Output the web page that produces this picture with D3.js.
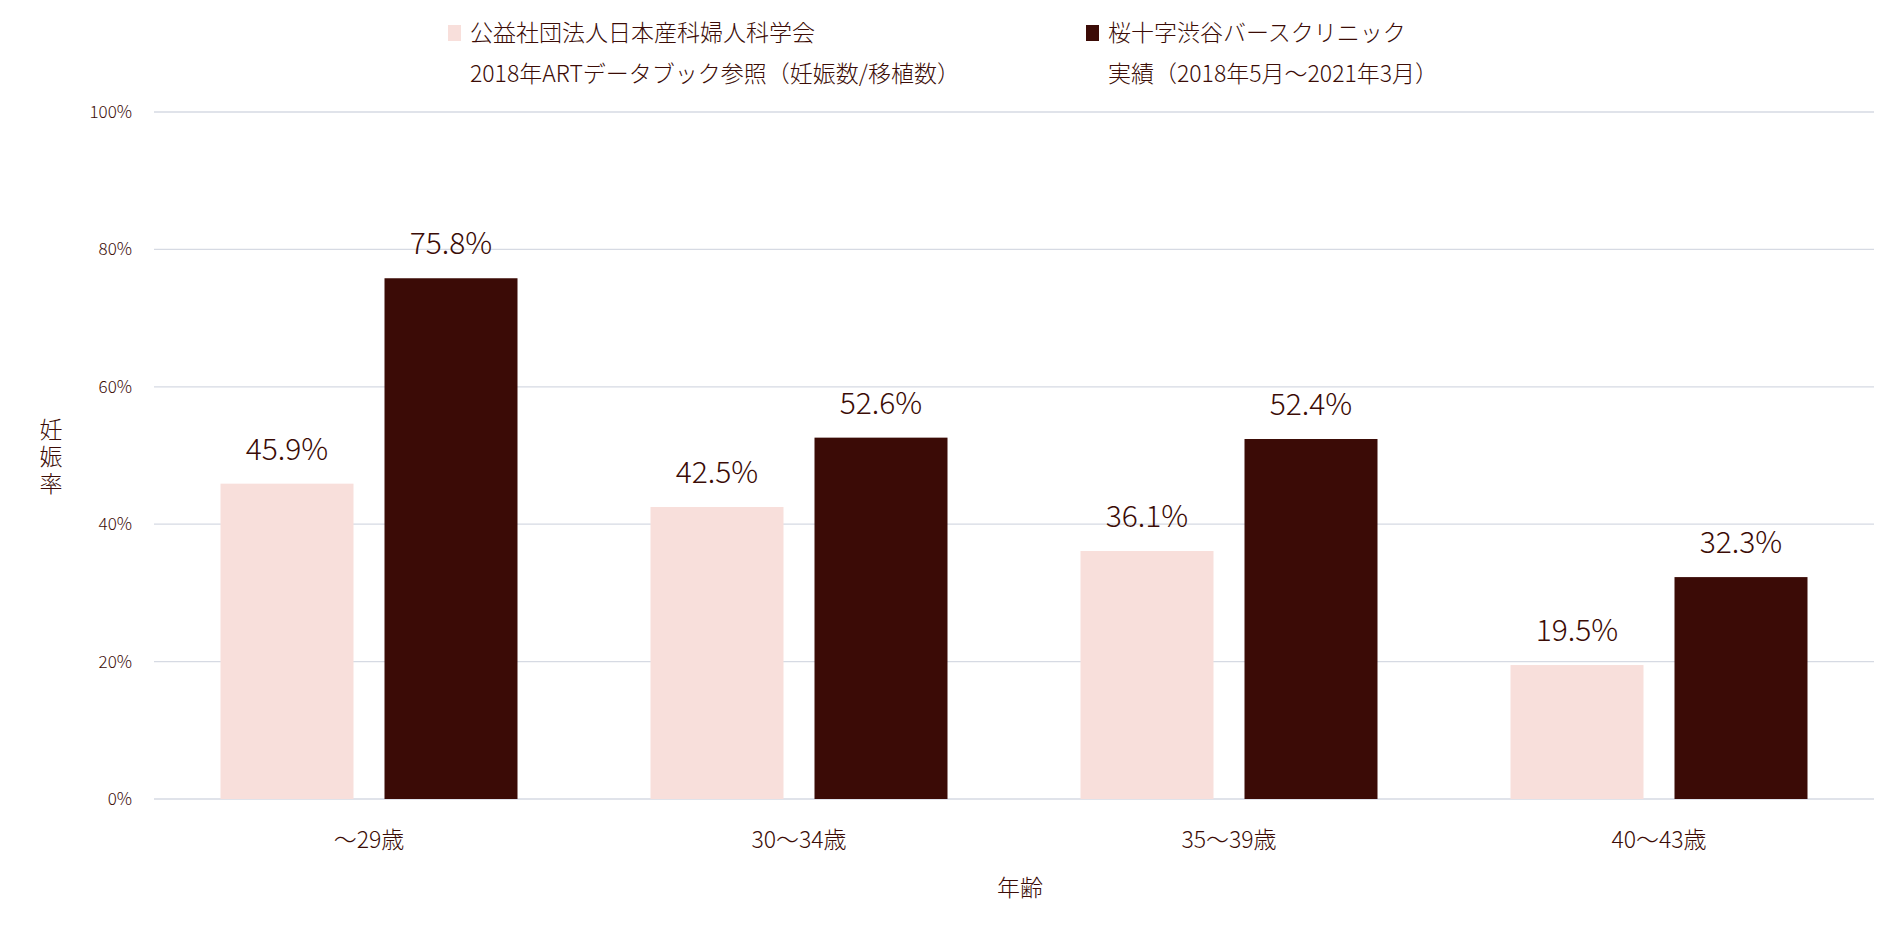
<!DOCTYPE html>
<html><head><meta charset="utf-8">
<script src="https://cdn.jsdelivr.net/npm/d3@7"></script>
<style>body{margin:0;background:#fff}text{font-family:"Noto Sans CJK JP","Noto Sans",sans-serif;fill:#3b0c06;font-weight:300}</style>
</head><body><svg id="c" width="1898" height="937"></svg>
<script>
const categories=["～29歳","30～34歳","35～39歳","40～43歳"];
const seriesNames=["公益社団法人日本産科婦人科学会","桜十字渋谷バースクリニック"];
const seriesSub=["2018年ARTデータブック参照（妊娠数/移植数）","実績（2018年5月～2021年3月）"];
const jsog=[45.9,42.5,36.1,19.5];
const clinic=[75.8,52.6,52.4,32.3];
const yTicks=[0,20,40,60,80,100];
const colors=["#f8dfdb","#3b0b06"];
const svg=d3.select("#c");
const L=154,R=1874,T=112,B=799;
const x=d3.scaleBand().domain(categories).range([L,R]);
const y=d3.scaleLinear().domain([0,100]).range([B,T]);
svg.selectAll(".g").data(yTicks).join("line").attr("x1",L).attr("x2",R).attr("y1",d=>y(d)).attr("y2",d=>y(d)).attr("stroke","#d6dae3").attr("stroke-width",1.3);
svg.selectAll(".yt").data(yTicks).join("text").attr("x",L-22).attr("y",d=>y(d)+6).attr("text-anchor","end").attr("font-size",17).text(d=>d+"%");
const bw=133,off=82;
[jsog,clinic].forEach((s,i)=>{
  const dx=i?off:-off;
  svg.selectAll(".b"+i).data(s).join("rect").attr("x",(d,j)=>x(categories[j])+x.bandwidth()/2+dx-bw/2).attr("width",bw).attr("y",d=>y(d)).attr("height",d=>B-y(d)).attr("fill",colors[i]);
  svg.selectAll(".l"+i).data(s).join("text").attr("x",(d,j)=>x(categories[j])+x.bandwidth()/2+dx).attr("y",d=>y(d)-24).attr("text-anchor","middle").attr("font-size",30).text(d=>d.toFixed(1)+"%");
});
svg.selectAll(".ct").data(categories).join("text").attr("x",d=>x(d)+x.bandwidth()/2).attr("y",848).attr("text-anchor","middle").attr("font-size",23).text(d=>d);
svg.append("text").attr("x",1020).attr("y",896).attr("text-anchor","middle").attr("font-size",23).text("年齢");
["妊","娠","率"].forEach((c,i)=>svg.append("text").attr("x",51).attr("y",438+i*27).attr("text-anchor","middle").attr("font-size",23).text(c));
[448,1086].forEach((lx,i)=>{
  svg.append("rect").attr("x",lx).attr("y",25).attr("width",13).attr("height",16).attr("fill",colors[i]);
  svg.append("text").attr("x",lx+22).attr("y",41).attr("font-size",23).text(seriesNames[i]);
  svg.append("text").attr("x",lx+22).attr("y",82).attr("font-size",23).text(seriesSub[i]);
});
</script></body></html>
